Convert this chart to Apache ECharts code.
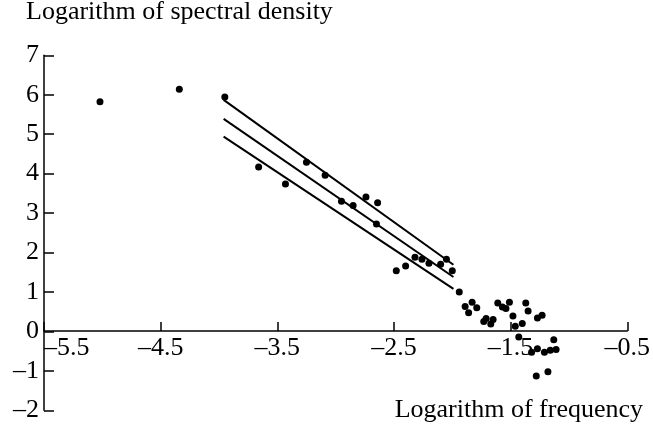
<!DOCTYPE html>
<html>
<head>
<meta charset="utf-8">
<script src="https://cdn.jsdelivr.net/npm/echarts@6/dist/echarts.min.js"></script>
<style>html,body{margin:0;padding:0;background:#fff}#c{width:653px;height:428px}</style>
</head>
<body>
<div id="c"></div>
<script>
// Scatter points: log frequency (x) and log spectral density (y)
var pointX = [-5.02, -4.34, -3.95, -3.66, -3.43, -3.25, -3.09, -2.95, -2.85, -2.74, -2.64, -2.65,
  -2.48, -2.40, -2.32, -2.26, -2.20, -2.10, -2.05, -2.00, -1.94,
  -1.89, -1.86, -1.83, -1.79, -1.73, -1.71, -1.67, -1.65, -1.61, -1.57, -1.54, -1.51,
  -1.48, -1.46, -1.40, -1.37, -1.35, -1.27, -1.23,
  -1.43, -1.32, -1.27, -1.21, -1.16, -1.13, -1.11, -1.28, -1.18];
var pointY = [5.82, 6.14, 5.94, 4.17, 3.74, 4.29, 3.96, 3.30, 3.19, 3.41, 3.26, 2.72,
  1.54, 1.66, 1.88, 1.83, 1.73, 1.70, 1.83, 1.54, 1.00,
  0.63, 0.47, 0.74, 0.60, 0.25, 0.33, 0.19, 0.30, 0.72, 0.62, 0.58, 0.74,
  0.39, 0.13, 0.20, 0.72, 0.52, 0.34, 0.41,
  -0.14, -0.53, -0.44, -0.53, -0.48, -0.21, -0.46, -1.13, -1.02];
// Fitted lines (endpoints)
var fitX = [-3.96, -1.99];
var upperFit = [5.87, 1.69];
var middleFit = [5.39, 1.38];
var lowerFit = [4.94, 1.08];
// Tick labels
var xTicks = [-5.5, -4.5, -3.5, -2.5, -1.5, -0.5];
var yMin = -2, yMax = 7, yStep = 1;
var xTitle = 'Logarithm of frequency';
var yTitle = 'Logarithm of spectral density';

var FONT = 'Liberation Serif';
function dash(v){ return String(v).replace('-', '\u2013'); }
function pairs(xs, ys){ return xs.map(function(x,i){ return [x, ys[i]]; }); }
function lineSeries(ys){
  return { type:'line', data: pairs(fitX, ys), symbol:'none', silent:true,
    lineStyle:{ color:'#000', width:2 }, z:2 };
}

var chart = echarts.init(document.getElementById('c'), null, {renderer:'canvas'});
chart.setOption({
  animation:false,
  backgroundColor:'#fff',
  title:[
    { text:yTitle, left:26, top:-1, padding:0,
      textStyle:{ fontFamily:FONT, fontSize:26, fontWeight:'normal', color:'#000' } },
    { text:xTitle, right:10, top:397, padding:0,
      textStyle:{ fontFamily:FONT, fontSize:26, fontWeight:'normal', color:'#000' } }
  ],
  grid:{ left:44, right:24, top:55.3, bottom:17.7, containLabel:false },
  xAxis:{
    type:'value', min:xTicks[0], max:xTicks[xTicks.length-1],
    position:'bottom', offset:-79.3,
    splitLine:{show:false},
    axisLine:{ onZero:false, lineStyle:{ color:'#000', width:1.5 } },
    axisTick:{ show:true, inside:true, length:9, customValues:xTicks, lineStyle:{ color:'#000', width:1.5 } },
    axisLabel:{ customValues:xTicks, margin:4, alignMinLabel:'left',
      fontFamily:FONT, fontSize:26, color:'#000', formatter:function(v){ return dash(v); } }
  },
  yAxis:{
    type:'value', min:yMin, max:yMax, interval:yStep,
    splitLine:{show:false},
    axisLine:{ show:true, lineStyle:{ color:'#000', width:1.5 } },
    axisTick:{ show:true, inside:true, length:10, lineStyle:{ color:'#000', width:1.5 } },
    axisLabel:{ margin:5, fontFamily:FONT, fontSize:26, color:'#000',
      formatter:function(v){ return dash(v); } }
  },
  series:[
    { type:'scatter', data: pairs(pointX, pointY), symbol:'circle', symbolSize:7,
      itemStyle:{ color:'#000', opacity:1 }, z:3 },
    lineSeries(upperFit), lineSeries(middleFit), lineSeries(lowerFit)
  ]
});
</script>
</body>
</html>
